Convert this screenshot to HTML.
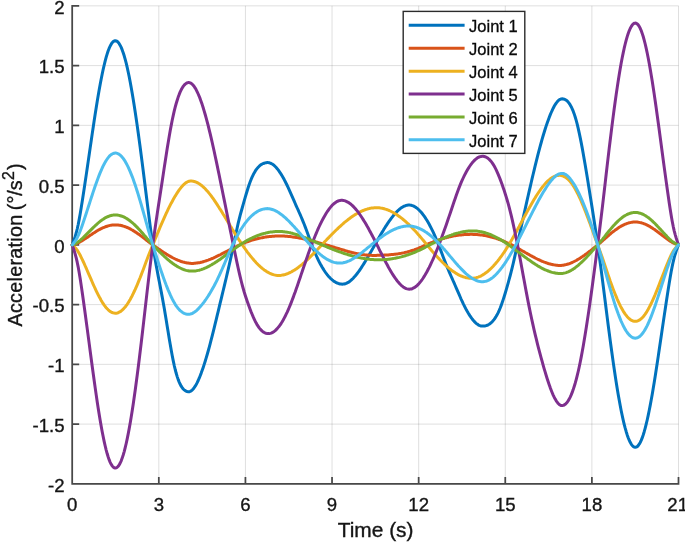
<!DOCTYPE html>
<html lang="en"><head><meta charset="utf-8"><title>Joint accelerations</title>
<style>
html,body{margin:0;padding:0;background:#fff;}
body{width:685px;height:542px;overflow:hidden;position:relative;font-family:"Liberation Sans",Arial,Helvetica,sans-serif;}
svg text{font-family:"Liberation Sans",Arial,Helvetica,sans-serif;}
</style></head><body>
<svg width="685" height="542" viewBox="0 0 685 542" style="position:absolute;left:0;top:0">
<rect width="685" height="542" fill="#fff"/>
<path d="M72.20,5.85V483.85M158.81,5.85V483.85M245.43,5.85V483.85M332.04,5.85V483.85M418.66,5.85V483.85M505.27,5.85V483.85M591.89,5.85V483.85M678.50,5.85V483.85" stroke="#262626" stroke-opacity="0.15" stroke-width="1" fill="none"/>
<path d="M72.20,5.85H678.50M72.20,65.60H678.50M72.20,125.35H678.50M72.20,185.10H678.50M72.20,244.85H678.50M72.20,304.60H678.50M72.20,364.35H678.50M72.20,424.10H678.50M72.20,483.85H678.50" stroke="#262626" stroke-opacity="0.15" stroke-width="1" fill="none"/>
<path d="M72.20,5.85V483.85H678.50M72.20,483.85v-6.1M158.81,483.85v-6.1M245.43,483.85v-6.1M332.04,483.85v-6.1M418.66,483.85v-6.1M505.27,483.85v-6.1M591.89,483.85v-6.1M678.50,483.85v-6.1M72.20,5.85h6.1M72.20,65.60h6.1M72.20,125.35h6.1M72.20,185.10h6.1M72.20,244.85h6.1M72.20,304.60h6.1M72.20,364.35h6.1M72.20,424.10h6.1M72.20,483.85h6.1" stroke="#484848" stroke-width="1.75" fill="none" stroke-linecap="square"/>
<path d="M72.2,244.9 L73.2,242.2 L74.2,239.4 L75.2,236.4 L76.2,233.0 L77.2,229.0 L78.2,224.5 L79.2,219.4 L80.2,213.8 L81.2,207.8 L82.2,201.5 L83.2,195.1 L84.2,188.5 L85.2,181.8 L86.2,175.1 L87.2,168.3 L88.2,161.4 L89.2,154.5 L90.2,147.6 L91.2,140.8 L92.2,133.9 L93.2,127.2 L94.2,120.5 L95.2,114.0 L96.2,107.7 L97.2,101.5 L98.2,95.5 L99.2,89.7 L100.2,84.2 L101.2,79.0 L102.2,74.0 L103.2,69.3 L104.2,65.0 L105.2,60.9 L106.2,57.2 L107.2,53.8 L108.2,50.8 L109.2,48.2 L110.2,46.0 L111.2,44.2 L112.2,42.7 L113.2,41.6 L114.2,41.0 L115.2,40.7 L116.2,40.9 L117.2,41.4 L118.2,42.4 L119.2,43.7 L120.2,45.4 L121.2,47.4 L122.2,49.9 L123.2,52.7 L124.2,55.8 L125.2,59.4 L126.2,63.2 L127.2,67.4 L128.2,72.0 L129.2,76.8 L130.2,82.0 L131.2,87.4 L132.2,93.2 L133.2,99.2 L134.2,105.4 L135.2,111.9 L136.2,118.7 L137.2,125.6 L138.2,132.7 L139.2,140.1 L140.2,147.5 L141.2,155.2 L142.2,162.9 L143.2,170.7 L144.2,178.7 L145.2,186.7 L146.2,194.7 L147.2,202.7 L148.2,210.6 L149.2,218.5 L150.2,226.2 L151.2,233.6 L152.2,240.8 L153.2,247.5 L154.2,253.8 L155.2,259.8 L156.2,265.4 L157.2,270.8 L158.2,276.1 L159.2,281.3 L160.2,286.4 L161.2,291.6 L162.2,296.9 L163.2,302.4 L164.2,308.0 L165.2,314.0 L166.2,320.0 L167.2,326.2 L168.2,332.3 L169.2,338.4 L170.2,344.3 L171.2,350.1 L172.2,355.5 L173.2,360.6 L174.2,365.3 L175.2,369.5 L176.2,373.3 L177.2,376.6 L178.2,379.6 L179.2,382.1 L180.2,384.3 L181.2,386.2 L182.2,387.7 L183.2,389.0 L184.2,389.9 L185.2,390.7 L186.2,391.2 L187.2,391.5 L188.2,391.7 L189.2,391.7 L190.2,391.4 L191.2,390.9 L192.2,390.1 L193.2,389.0 L194.2,387.7 L195.2,386.2 L196.2,384.5 L197.2,382.6 L198.2,380.5 L199.2,378.2 L200.2,375.7 L201.2,373.1 L202.2,370.3 L203.2,367.4 L204.2,364.4 L205.2,361.2 L206.2,357.9 L207.2,354.5 L208.2,351.0 L209.2,347.3 L210.2,343.6 L211.2,339.7 L212.2,335.8 L213.2,331.8 L214.2,327.8 L215.2,323.7 L216.2,319.6 L217.2,315.4 L218.2,311.3 L219.2,307.1 L220.2,302.9 L221.2,298.8 L222.2,294.7 L223.2,290.5 L224.2,286.4 L225.2,282.2 L226.2,278.0 L227.2,273.7 L228.2,269.4 L229.2,265.0 L230.2,260.6 L231.2,256.1 L232.2,251.5 L233.2,246.8 L234.2,242.0 L235.2,237.1 L236.2,232.3 L237.2,227.7 L238.2,223.2 L239.2,219.1 L240.2,215.2 L241.2,211.5 L242.2,208.0 L243.2,204.4 L244.2,200.9 L245.2,197.4 L246.2,194.0 L247.2,190.7 L248.2,187.5 L249.2,184.5 L250.2,181.8 L251.2,179.2 L252.2,176.9 L253.2,174.8 L254.2,172.9 L255.2,171.2 L256.2,169.7 L257.2,168.4 L258.2,167.2 L259.2,166.2 L260.2,165.3 L261.2,164.6 L262.2,164.0 L263.2,163.5 L264.2,163.2 L265.2,162.9 L266.2,162.7 L267.2,162.6 L268.2,162.6 L269.2,162.8 L270.2,163.1 L271.2,163.5 L272.2,164.0 L273.2,164.7 L274.2,165.5 L275.2,166.5 L276.2,167.5 L277.2,168.7 L278.2,169.9 L279.2,171.3 L280.2,172.8 L281.2,174.4 L282.2,176.0 L283.2,177.8 L284.2,179.6 L285.2,181.5 L286.2,183.5 L287.2,185.5 L288.2,187.6 L289.2,189.8 L290.2,192.1 L291.2,194.3 L292.2,196.6 L293.2,198.9 L294.2,201.2 L295.2,203.5 L296.2,205.8 L297.2,208.0 L298.2,210.2 L299.2,212.5 L300.2,214.7 L301.2,217.0 L302.2,219.4 L303.2,221.8 L304.2,224.3 L305.2,226.9 L306.2,229.6 L307.2,232.3 L308.2,235.0 L309.2,237.8 L310.2,240.6 L311.2,243.3 L312.2,245.9 L313.2,248.4 L314.2,250.9 L315.2,253.3 L316.2,255.5 L317.2,257.7 L318.2,259.8 L319.2,261.8 L320.2,263.7 L321.2,265.5 L322.2,267.3 L323.2,268.9 L324.2,270.5 L325.2,272.0 L326.2,273.4 L327.2,274.7 L328.2,275.9 L329.2,277.0 L330.2,278.1 L331.2,279.0 L332.2,279.9 L333.2,280.7 L334.2,281.4 L335.2,282.0 L336.2,282.6 L337.2,283.0 L338.2,283.4 L339.2,283.7 L340.2,284.0 L341.2,284.1 L342.2,284.2 L343.2,284.1 L344.2,284.0 L345.2,283.7 L346.2,283.4 L347.2,282.9 L348.2,282.4 L349.2,281.7 L350.2,281.0 L351.2,280.1 L352.2,279.2 L353.2,278.2 L354.2,277.1 L355.2,276.0 L356.2,274.8 L357.2,273.5 L358.2,272.2 L359.2,270.8 L360.2,269.3 L361.2,267.9 L362.2,266.3 L363.2,264.7 L364.2,263.1 L365.2,261.5 L366.2,259.8 L367.2,258.1 L368.2,256.4 L369.2,254.7 L370.2,252.9 L371.2,251.2 L372.2,249.4 L373.2,247.7 L374.2,245.9 L375.2,244.2 L376.2,242.4 L377.2,240.7 L378.2,238.9 L379.2,237.2 L380.2,235.5 L381.2,233.8 L382.2,232.1 L383.2,230.5 L384.2,228.8 L385.2,227.2 L386.2,225.7 L387.2,224.1 L388.2,222.6 L389.2,221.2 L390.2,219.8 L391.2,218.4 L392.2,217.1 L393.2,215.8 L394.2,214.6 L395.2,213.5 L396.2,212.4 L397.2,211.3 L398.2,210.4 L399.2,209.5 L400.2,208.7 L401.2,207.9 L402.2,207.3 L403.2,206.7 L404.2,206.2 L405.2,205.8 L406.2,205.4 L407.2,205.2 L408.2,205.1 L409.2,205.1 L410.2,205.1 L411.2,205.3 L412.2,205.6 L413.2,205.9 L414.2,206.4 L415.2,207.0 L416.2,207.6 L417.2,208.4 L418.2,209.2 L419.2,210.2 L420.2,211.2 L421.2,212.3 L422.2,213.5 L423.2,214.8 L424.2,216.2 L425.2,217.6 L426.2,219.2 L427.2,220.8 L428.2,222.5 L429.2,224.3 L430.2,226.2 L431.2,228.1 L432.2,230.1 L433.2,232.2 L434.2,234.4 L435.2,236.7 L436.2,239.0 L437.2,241.4 L438.2,243.8 L439.2,246.4 L440.2,249.0 L441.2,251.6 L442.2,254.2 L443.2,256.9 L444.2,259.5 L445.2,262.1 L446.2,264.7 L447.2,267.1 L448.2,269.5 L449.2,271.9 L450.2,274.2 L451.2,276.5 L452.2,278.7 L453.2,281.0 L454.2,283.2 L455.2,285.5 L456.2,287.8 L457.2,290.1 L458.2,292.4 L459.2,294.7 L460.2,297.0 L461.2,299.3 L462.2,301.4 L463.2,303.6 L464.2,305.6 L465.2,307.6 L466.2,309.5 L467.2,311.3 L468.2,313.0 L469.2,314.6 L470.2,316.2 L471.2,317.6 L472.2,319.0 L473.2,320.2 L474.2,321.4 L475.2,322.4 L476.2,323.3 L477.2,324.1 L478.2,324.8 L479.2,325.3 L480.2,325.7 L481.2,326.0 L482.2,326.1 L483.2,326.1 L484.2,326.0 L485.2,325.9 L486.2,325.6 L487.2,325.3 L488.2,324.8 L489.2,324.2 L490.2,323.5 L491.2,322.7 L492.2,321.7 L493.2,320.6 L494.2,319.4 L495.2,317.9 L496.2,316.3 L497.2,314.5 L498.2,312.6 L499.2,310.4 L500.2,308.0 L501.2,305.4 L502.2,302.6 L503.2,299.6 L504.2,296.5 L505.2,293.2 L506.2,289.8 L507.2,286.3 L508.2,282.8 L509.2,279.2 L510.2,275.5 L511.2,271.7 L512.2,267.7 L513.2,263.5 L514.2,259.1 L515.2,254.6 L516.2,250.0 L517.2,245.3 L518.2,240.7 L519.2,236.1 L520.2,231.5 L521.2,226.9 L522.2,222.3 L523.2,217.8 L524.2,213.3 L525.2,208.8 L526.2,204.4 L527.2,199.9 L528.2,195.5 L529.2,191.2 L530.2,186.8 L531.2,182.5 L532.2,178.2 L533.2,174.0 L534.2,169.8 L535.2,165.7 L536.2,161.6 L537.2,157.6 L538.2,153.7 L539.2,149.9 L540.2,146.1 L541.2,142.5 L542.2,138.9 L543.2,135.5 L544.2,132.2 L545.2,129.0 L546.2,125.9 L547.2,123.0 L548.2,120.2 L549.2,117.5 L550.2,114.9 L551.2,112.5 L552.2,110.3 L553.2,108.2 L554.2,106.3 L555.2,104.6 L556.2,103.1 L557.2,101.8 L558.2,100.7 L559.2,99.9 L560.2,99.3 L561.2,98.9 L562.2,98.8 L563.2,98.9 L564.2,99.2 L565.2,99.6 L566.2,100.2 L567.2,101.0 L568.2,102.1 L569.2,103.4 L570.2,104.9 L571.2,106.7 L572.2,108.8 L573.2,111.2 L574.2,113.9 L575.2,117.0 L576.2,120.4 L577.2,124.1 L578.2,128.3 L579.2,132.8 L580.2,137.6 L581.2,142.6 L582.2,147.9 L583.2,153.5 L584.2,159.2 L585.2,165.0 L586.2,171.0 L587.2,177.1 L588.2,183.2 L589.2,189.4 L590.2,195.7 L591.2,201.9 L592.2,208.3 L593.2,214.7 L594.2,221.2 L595.2,227.8 L596.2,234.5 L597.2,241.4 L598.2,248.4 L599.2,255.5 L600.2,262.8 L601.2,270.3 L602.2,277.9 L603.2,285.7 L604.2,293.6 L605.2,301.5 L606.2,309.5 L607.2,317.4 L608.2,325.2 L609.2,332.8 L610.2,340.4 L611.2,347.8 L612.2,355.0 L613.2,362.1 L614.2,369.0 L615.2,375.7 L616.2,382.2 L617.2,388.4 L618.2,394.4 L619.2,400.1 L620.2,405.6 L621.2,410.7 L622.2,415.5 L623.2,420.1 L624.2,424.3 L625.2,428.2 L626.2,431.7 L627.2,434.9 L628.2,437.7 L629.2,440.2 L630.2,442.3 L631.2,444.1 L632.2,445.5 L633.2,446.4 L634.2,447.1 L635.2,447.3 L636.2,447.1 L637.2,446.6 L638.2,445.6 L639.2,444.2 L640.2,442.5 L641.2,440.4 L642.2,437.9 L643.2,435.0 L644.2,431.7 L645.2,428.1 L646.2,424.2 L647.2,420.0 L648.2,415.4 L649.2,410.5 L650.2,405.4 L651.2,400.0 L652.2,394.4 L653.2,388.5 L654.2,382.4 L655.2,376.2 L656.2,369.8 L657.2,363.2 L658.2,356.6 L659.2,349.8 L660.2,343.0 L661.2,336.2 L662.2,329.4 L663.2,322.6 L664.2,315.9 L665.2,309.2 L666.2,302.5 L667.2,296.0 L668.2,289.6 L669.2,283.3 L670.2,277.3 L671.2,271.6 L672.2,266.4 L673.2,261.8 L674.2,257.7 L675.2,254.2 L676.2,251.1 L677.2,248.3 L678.2,245.6 L678.5,244.9" stroke="#0072BD" stroke-width="3.0" fill="none" stroke-linejoin="round" stroke-linecap="round"/>
<path d="M72.2,244.9 L73.2,244.6 L74.2,244.3 L75.2,244.0 L76.2,243.7 L77.2,243.3 L78.2,242.9 L79.2,242.4 L80.2,241.8 L81.2,241.2 L82.2,240.6 L83.2,240.0 L84.2,239.3 L85.2,238.7 L86.2,238.0 L87.2,237.4 L88.2,236.7 L89.2,236.0 L90.2,235.3 L91.2,234.7 L92.2,234.0 L93.2,233.3 L94.2,232.7 L95.2,232.1 L96.2,231.4 L97.2,230.8 L98.2,230.2 L99.2,229.7 L100.2,229.1 L101.2,228.6 L102.2,228.1 L103.2,227.7 L104.2,227.3 L105.2,226.9 L106.2,226.5 L107.2,226.2 L108.2,225.9 L109.2,225.6 L110.2,225.4 L111.2,225.2 L112.2,225.1 L113.2,225.0 L114.2,224.9 L115.2,224.9 L116.2,224.9 L117.2,225.0 L118.2,225.1 L119.2,225.2 L120.2,225.3 L121.2,225.5 L122.2,225.8 L123.2,226.1 L124.2,226.4 L125.2,226.7 L126.2,227.1 L127.2,227.5 L128.2,227.9 L129.2,228.4 L130.2,228.9 L131.2,229.5 L132.2,230.0 L133.2,230.6 L134.2,231.2 L135.2,231.9 L136.2,232.5 L137.2,233.2 L138.2,233.9 L139.2,234.6 L140.2,235.3 L141.2,236.1 L142.2,236.8 L143.2,237.6 L144.2,238.4 L145.2,239.2 L146.2,240.0 L147.2,240.7 L148.2,241.5 L149.2,242.3 L150.2,243.0 L151.2,243.7 L152.2,244.4 L153.2,245.1 L154.2,245.8 L155.2,246.6 L156.2,247.3 L157.2,248.0 L158.2,248.7 L159.2,249.3 L160.2,250.0 L161.2,250.7 L162.2,251.4 L163.2,252.1 L164.2,252.7 L165.2,253.3 L166.2,254.0 L167.2,254.6 L168.2,255.2 L169.2,255.8 L170.2,256.4 L171.2,256.9 L172.2,257.5 L173.2,258.0 L174.2,258.5 L175.2,259.0 L176.2,259.5 L177.2,259.9 L178.2,260.3 L179.2,260.7 L180.2,261.1 L181.2,261.5 L182.2,261.8 L183.2,262.1 L184.2,262.3 L185.2,262.6 L186.2,262.8 L187.2,263.0 L188.2,263.1 L189.2,263.2 L190.2,263.3 L191.2,263.4 L192.2,263.4 L193.2,263.4 L194.2,263.3 L195.2,263.2 L196.2,263.1 L197.2,263.0 L198.2,262.8 L199.2,262.7 L200.2,262.5 L201.2,262.2 L202.2,262.0 L203.2,261.7 L204.2,261.4 L205.2,261.1 L206.2,260.8 L207.2,260.4 L208.2,260.1 L209.2,259.7 L210.2,259.3 L211.2,258.9 L212.2,258.5 L213.2,258.1 L214.2,257.6 L215.2,257.2 L216.2,256.7 L217.2,256.2 L218.2,255.7 L219.2,255.2 L220.2,254.8 L221.2,254.2 L222.2,253.7 L223.2,253.2 L224.2,252.7 L225.2,252.2 L226.2,251.7 L227.2,251.2 L228.2,250.6 L229.2,250.1 L230.2,249.6 L231.2,249.1 L232.2,248.6 L233.2,248.0 L234.2,247.5 L235.2,247.0 L236.2,246.6 L237.2,246.1 L238.2,245.6 L239.2,245.1 L240.2,244.7 L241.2,244.2 L242.2,243.8 L243.2,243.4 L244.2,243.0 L245.2,242.6 L246.2,242.2 L247.2,241.8 L248.2,241.5 L249.2,241.1 L250.2,240.8 L251.2,240.4 L252.2,240.1 L253.2,239.8 L254.2,239.5 L255.2,239.3 L256.2,239.0 L257.2,238.8 L258.2,238.5 L259.2,238.3 L260.2,238.1 L261.2,237.9 L262.2,237.7 L263.2,237.5 L264.2,237.3 L265.2,237.1 L266.2,237.0 L267.2,236.8 L268.2,236.7 L269.2,236.6 L270.2,236.5 L271.2,236.4 L272.2,236.3 L273.2,236.2 L274.2,236.2 L275.2,236.1 L276.2,236.1 L277.2,236.0 L278.2,236.0 L279.2,236.0 L280.2,236.0 L281.2,236.0 L282.2,236.0 L283.2,236.1 L284.2,236.1 L285.2,236.2 L286.2,236.2 L287.2,236.3 L288.2,236.4 L289.2,236.5 L290.2,236.6 L291.2,236.7 L292.2,236.9 L293.2,237.0 L294.2,237.2 L295.2,237.3 L296.2,237.5 L297.2,237.6 L298.2,237.8 L299.2,238.0 L300.2,238.2 L301.2,238.4 L302.2,238.6 L303.2,238.8 L304.2,239.0 L305.2,239.3 L306.2,239.5 L307.2,239.7 L308.2,240.0 L309.2,240.2 L310.2,240.5 L311.2,240.7 L312.2,241.0 L313.2,241.3 L314.2,241.5 L315.2,241.8 L316.2,242.1 L317.2,242.3 L318.2,242.6 L319.2,242.9 L320.2,243.2 L321.2,243.5 L322.2,243.8 L323.2,244.0 L324.2,244.3 L325.2,244.6 L326.2,244.9 L327.2,245.2 L328.2,245.5 L329.2,245.8 L330.2,246.1 L331.2,246.4 L332.2,246.7 L333.2,247.0 L334.2,247.3 L335.2,247.6 L336.2,247.9 L337.2,248.2 L338.2,248.5 L339.2,248.8 L340.2,249.1 L341.2,249.4 L342.2,249.7 L343.2,250.0 L344.2,250.3 L345.2,250.6 L346.2,250.9 L347.2,251.2 L348.2,251.5 L349.2,251.7 L350.2,252.0 L351.2,252.2 L352.2,252.5 L353.2,252.7 L354.2,253.0 L355.2,253.2 L356.2,253.4 L357.2,253.6 L358.2,253.8 L359.2,254.0 L360.2,254.2 L361.2,254.4 L362.2,254.5 L363.2,254.7 L364.2,254.8 L365.2,254.9 L366.2,255.0 L367.2,255.1 L368.2,255.2 L369.2,255.3 L370.2,255.3 L371.2,255.3 L372.2,255.4 L373.2,255.4 L374.2,255.4 L375.2,255.4 L376.2,255.4 L377.2,255.3 L378.2,255.3 L379.2,255.3 L380.2,255.3 L381.2,255.3 L382.2,255.2 L383.2,255.2 L384.2,255.1 L385.2,255.1 L386.2,255.0 L387.2,255.0 L388.2,254.9 L389.2,254.8 L390.2,254.7 L391.2,254.6 L392.2,254.5 L393.2,254.4 L394.2,254.3 L395.2,254.2 L396.2,254.1 L397.2,253.9 L398.2,253.8 L399.2,253.6 L400.2,253.4 L401.2,253.3 L402.2,253.1 L403.2,252.9 L404.2,252.7 L405.2,252.4 L406.2,252.2 L407.2,252.0 L408.2,251.7 L409.2,251.4 L410.2,251.1 L411.2,250.8 L412.2,250.5 L413.2,250.2 L414.2,249.9 L415.2,249.5 L416.2,249.1 L417.2,248.8 L418.2,248.4 L419.2,247.9 L420.2,247.5 L421.2,247.1 L422.2,246.6 L423.2,246.2 L424.2,245.7 L425.2,245.3 L426.2,244.8 L427.2,244.4 L428.2,243.9 L429.2,243.5 L430.2,243.1 L431.2,242.7 L432.2,242.3 L433.2,241.9 L434.2,241.5 L435.2,241.1 L436.2,240.8 L437.2,240.4 L438.2,240.1 L439.2,239.8 L440.2,239.4 L441.2,239.1 L442.2,238.8 L443.2,238.5 L444.2,238.2 L445.2,237.9 L446.2,237.7 L447.2,237.4 L448.2,237.2 L449.2,236.9 L450.2,236.7 L451.2,236.5 L452.2,236.3 L453.2,236.1 L454.2,235.9 L455.2,235.7 L456.2,235.5 L457.2,235.4 L458.2,235.2 L459.2,235.1 L460.2,235.0 L461.2,234.9 L462.2,234.8 L463.2,234.7 L464.2,234.6 L465.2,234.5 L466.2,234.5 L467.2,234.4 L468.2,234.4 L469.2,234.4 L470.2,234.3 L471.2,234.3 L472.2,234.3 L473.2,234.4 L474.2,234.4 L475.2,234.4 L476.2,234.5 L477.2,234.6 L478.2,234.7 L479.2,234.8 L480.2,234.9 L481.2,235.0 L482.2,235.1 L483.2,235.3 L484.2,235.5 L485.2,235.6 L486.2,235.8 L487.2,236.0 L488.2,236.3 L489.2,236.5 L490.2,236.7 L491.2,237.0 L492.2,237.2 L493.2,237.5 L494.2,237.8 L495.2,238.1 L496.2,238.4 L497.2,238.8 L498.2,239.1 L499.2,239.5 L500.2,239.8 L501.2,240.2 L502.2,240.6 L503.2,241.0 L504.2,241.4 L505.2,241.9 L506.2,242.3 L507.2,242.8 L508.2,243.2 L509.2,243.7 L510.2,244.2 L511.2,244.7 L512.2,245.2 L513.2,245.7 L514.2,246.3 L515.2,246.8 L516.2,247.4 L517.2,247.9 L518.2,248.5 L519.2,249.0 L520.2,249.6 L521.2,250.2 L522.2,250.8 L523.2,251.3 L524.2,251.9 L525.2,252.5 L526.2,253.0 L527.2,253.6 L528.2,254.2 L529.2,254.7 L530.2,255.3 L531.2,255.8 L532.2,256.4 L533.2,256.9 L534.2,257.4 L535.2,258.0 L536.2,258.5 L537.2,259.0 L538.2,259.5 L539.2,259.9 L540.2,260.4 L541.2,260.8 L542.2,261.3 L543.2,261.7 L544.2,262.1 L545.2,262.4 L546.2,262.8 L547.2,263.1 L548.2,263.5 L549.2,263.8 L550.2,264.0 L551.2,264.3 L552.2,264.5 L553.2,264.7 L554.2,264.9 L555.2,265.1 L556.2,265.2 L557.2,265.3 L558.2,265.4 L559.2,265.4 L560.2,265.4 L561.2,265.4 L562.2,265.3 L563.2,265.2 L564.2,265.0 L565.2,264.8 L566.2,264.6 L567.2,264.3 L568.2,264.0 L569.2,263.7 L570.2,263.3 L571.2,262.9 L572.2,262.5 L573.2,262.0 L574.2,261.5 L575.2,261.0 L576.2,260.5 L577.2,259.9 L578.2,259.3 L579.2,258.7 L580.2,258.1 L581.2,257.4 L582.2,256.8 L583.2,256.1 L584.2,255.4 L585.2,254.6 L586.2,253.9 L587.2,253.2 L588.2,252.4 L589.2,251.6 L590.2,250.9 L591.2,250.1 L592.2,249.3 L593.2,248.5 L594.2,247.7 L595.2,246.9 L596.2,246.1 L597.2,245.3 L598.2,244.4 L599.2,243.6 L600.2,242.8 L601.2,242.0 L602.2,241.1 L603.2,240.2 L604.2,239.4 L605.2,238.5 L606.2,237.6 L607.2,236.7 L608.2,235.8 L609.2,234.9 L610.2,234.1 L611.2,233.2 L612.2,232.4 L613.2,231.6 L614.2,230.9 L615.2,230.1 L616.2,229.4 L617.2,228.7 L618.2,228.0 L619.2,227.3 L620.2,226.7 L621.2,226.1 L622.2,225.6 L623.2,225.1 L624.2,224.6 L625.2,224.2 L626.2,223.8 L627.2,223.4 L628.2,223.1 L629.2,222.8 L630.2,222.6 L631.2,222.4 L632.2,222.2 L633.2,222.1 L634.2,222.1 L635.2,222.0 L636.2,222.0 L637.2,222.1 L638.2,222.2 L639.2,222.4 L640.2,222.6 L641.2,222.8 L642.2,223.1 L643.2,223.4 L644.2,223.8 L645.2,224.2 L646.2,224.6 L647.2,225.1 L648.2,225.6 L649.2,226.2 L650.2,226.7 L651.2,227.4 L652.2,228.0 L653.2,228.7 L654.2,229.3 L655.2,230.0 L656.2,230.8 L657.2,231.5 L658.2,232.3 L659.2,233.0 L660.2,233.8 L661.2,234.5 L662.2,235.3 L663.2,236.1 L664.2,236.8 L665.2,237.6 L666.2,238.3 L667.2,239.1 L668.2,239.8 L669.2,240.5 L670.2,241.2 L671.2,241.8 L672.2,242.4 L673.2,242.9 L674.2,243.4 L675.2,243.8 L676.2,244.1 L677.2,244.5 L678.2,244.8 L678.5,244.9" stroke="#D95319" stroke-width="3.0" fill="none" stroke-linejoin="round" stroke-linecap="round"/>
<path d="M72.2,244.9 L73.2,245.7 L74.2,246.7 L75.2,247.7 L76.2,248.8 L77.2,250.1 L78.2,251.7 L79.2,253.4 L80.2,255.3 L81.2,257.3 L82.2,259.4 L83.2,261.5 L84.2,263.7 L85.2,266.0 L86.2,268.2 L87.2,270.5 L88.2,272.8 L89.2,275.1 L90.2,277.4 L91.2,279.7 L92.2,282.0 L93.2,284.3 L94.2,286.5 L95.2,288.7 L96.2,290.8 L97.2,292.9 L98.2,294.9 L99.2,296.8 L100.2,298.6 L101.2,300.4 L102.2,302.1 L103.2,303.6 L104.2,305.1 L105.2,306.5 L106.2,307.7 L107.2,308.8 L108.2,309.8 L109.2,310.7 L110.2,311.4 L111.2,312.1 L112.2,312.5 L113.2,312.9 L114.2,313.1 L115.2,313.2 L116.2,313.2 L117.2,313.0 L118.2,312.7 L119.2,312.2 L120.2,311.7 L121.2,311.0 L122.2,310.1 L123.2,309.2 L124.2,308.1 L125.2,307.0 L126.2,305.7 L127.2,304.3 L128.2,302.7 L129.2,301.1 L130.2,299.4 L131.2,297.6 L132.2,295.7 L133.2,293.6 L134.2,291.5 L135.2,289.4 L136.2,287.1 L137.2,284.8 L138.2,282.4 L139.2,279.9 L140.2,277.5 L141.2,274.9 L142.2,272.3 L143.2,269.7 L144.2,267.0 L145.2,264.3 L146.2,261.6 L147.2,258.9 L148.2,256.3 L149.2,253.7 L150.2,251.2 L151.2,248.8 L152.2,246.3 L153.2,243.9 L154.2,241.4 L155.2,239.0 L156.2,236.6 L157.2,234.2 L158.2,231.8 L159.2,229.4 L160.2,227.0 L161.2,224.7 L162.2,222.3 L163.2,220.1 L164.2,217.8 L165.2,215.6 L166.2,213.4 L167.2,211.3 L168.2,209.2 L169.2,207.2 L170.2,205.2 L171.2,203.2 L172.2,201.4 L173.2,199.6 L174.2,197.8 L175.2,196.1 L176.2,194.5 L177.2,192.9 L178.2,191.4 L179.2,189.9 L180.2,188.6 L181.2,187.3 L182.2,186.2 L183.2,185.1 L184.2,184.2 L185.2,183.3 L186.2,182.6 L187.2,182.0 L188.2,181.5 L189.2,181.2 L190.2,181.1 L191.2,181.0 L192.2,181.1 L193.2,181.3 L194.2,181.5 L195.2,181.8 L196.2,182.2 L197.2,182.7 L198.2,183.2 L199.2,183.8 L200.2,184.5 L201.2,185.2 L202.2,186.0 L203.2,186.9 L204.2,187.8 L205.2,188.8 L206.2,189.9 L207.2,191.0 L208.2,192.1 L209.2,193.4 L210.2,194.6 L211.2,195.9 L212.2,197.3 L213.2,198.7 L214.2,200.1 L215.2,201.6 L216.2,203.1 L217.2,204.6 L218.2,206.2 L219.2,207.8 L220.2,209.3 L221.2,210.9 L222.2,212.5 L223.2,214.2 L224.2,215.8 L225.2,217.4 L226.2,219.1 L227.2,220.7 L228.2,222.4 L229.2,224.0 L230.2,225.7 L231.2,227.3 L232.2,229.0 L233.2,230.6 L234.2,232.2 L235.2,233.9 L236.2,235.5 L237.2,237.0 L238.2,238.6 L239.2,240.2 L240.2,241.7 L241.2,243.2 L242.2,244.7 L243.2,246.2 L244.2,247.6 L245.2,249.0 L246.2,250.4 L247.2,251.8 L248.2,253.1 L249.2,254.4 L250.2,255.7 L251.2,256.9 L252.2,258.1 L253.2,259.3 L254.2,260.5 L255.2,261.6 L256.2,262.7 L257.2,263.7 L258.2,264.7 L259.2,265.7 L260.2,266.6 L261.2,267.5 L262.2,268.3 L263.2,269.1 L264.2,269.9 L265.2,270.6 L266.2,271.3 L267.2,271.9 L268.2,272.4 L269.2,273.0 L270.2,273.5 L271.2,273.9 L272.2,274.3 L273.2,274.6 L274.2,274.9 L275.2,275.1 L276.2,275.3 L277.2,275.4 L278.2,275.4 L279.2,275.4 L280.2,275.4 L281.2,275.3 L282.2,275.1 L283.2,275.0 L284.2,274.7 L285.2,274.5 L286.2,274.1 L287.2,273.8 L288.2,273.4 L289.2,272.9 L290.2,272.5 L291.2,272.0 L292.2,271.4 L293.2,270.8 L294.2,270.2 L295.2,269.6 L296.2,268.9 L297.2,268.2 L298.2,267.5 L299.2,266.7 L300.2,265.9 L301.2,265.1 L302.2,264.3 L303.2,263.4 L304.2,262.6 L305.2,261.7 L306.2,260.7 L307.2,259.8 L308.2,258.9 L309.2,257.9 L310.2,256.9 L311.2,255.9 L312.2,254.9 L313.2,253.9 L314.2,252.9 L315.2,251.8 L316.2,250.8 L317.2,249.7 L318.2,248.7 L319.2,247.6 L320.2,246.6 L321.2,245.5 L322.2,244.4 L323.2,243.4 L324.2,242.3 L325.2,241.2 L326.2,240.2 L327.2,239.1 L328.2,238.1 L329.2,237.1 L330.2,236.0 L331.2,235.0 L332.2,234.0 L333.2,233.0 L334.2,232.0 L335.2,231.0 L336.2,230.0 L337.2,229.1 L338.2,228.1 L339.2,227.2 L340.2,226.3 L341.2,225.4 L342.2,224.5 L343.2,223.6 L344.2,222.7 L345.2,221.9 L346.2,221.1 L347.2,220.3 L348.2,219.5 L349.2,218.8 L350.2,218.0 L351.2,217.3 L352.2,216.6 L353.2,215.9 L354.2,215.3 L355.2,214.6 L356.2,214.0 L357.2,213.5 L358.2,212.9 L359.2,212.4 L360.2,211.9 L361.2,211.4 L362.2,210.9 L363.2,210.5 L364.2,210.1 L365.2,209.7 L366.2,209.4 L367.2,209.1 L368.2,208.8 L369.2,208.6 L370.2,208.3 L371.2,208.1 L372.2,208.0 L373.2,207.9 L374.2,207.8 L375.2,207.7 L376.2,207.7 L377.2,207.7 L378.2,207.7 L379.2,207.8 L380.2,207.9 L381.2,208.1 L382.2,208.3 L383.2,208.5 L384.2,208.8 L385.2,209.1 L386.2,209.4 L387.2,209.7 L388.2,210.1 L389.2,210.5 L390.2,211.0 L391.2,211.5 L392.2,212.0 L393.2,212.5 L394.2,213.1 L395.2,213.7 L396.2,214.3 L397.2,215.0 L398.2,215.7 L399.2,216.4 L400.2,217.1 L401.2,217.9 L402.2,218.7 L403.2,219.5 L404.2,220.3 L405.2,221.2 L406.2,222.1 L407.2,223.0 L408.2,223.9 L409.2,224.9 L410.2,225.8 L411.2,226.8 L412.2,227.9 L413.2,228.9 L414.2,230.0 L415.2,231.0 L416.2,232.1 L417.2,233.3 L418.2,234.4 L419.2,235.5 L420.2,236.7 L421.2,237.9 L422.2,239.1 L423.2,240.3 L424.2,241.5 L425.2,242.8 L426.2,244.0 L427.2,245.2 L428.2,246.4 L429.2,247.6 L430.2,248.8 L431.2,250.0 L432.2,251.2 L433.2,252.3 L434.2,253.5 L435.2,254.6 L436.2,255.7 L437.2,256.8 L438.2,257.9 L439.2,258.9 L440.2,260.0 L441.2,261.0 L442.2,262.0 L443.2,263.0 L444.2,263.9 L445.2,264.9 L446.2,265.8 L447.2,266.7 L448.2,267.5 L449.2,268.4 L450.2,269.2 L451.2,270.0 L452.2,270.7 L453.2,271.4 L454.2,272.1 L455.2,272.8 L456.2,273.4 L457.2,274.0 L458.2,274.6 L459.2,275.1 L460.2,275.6 L461.2,276.0 L462.2,276.4 L463.2,276.8 L464.2,277.1 L465.2,277.4 L466.2,277.7 L467.2,277.9 L468.2,278.1 L469.2,278.2 L470.2,278.3 L471.2,278.3 L472.2,278.3 L473.2,278.2 L474.2,278.1 L475.2,277.9 L476.2,277.7 L477.2,277.4 L478.2,277.1 L479.2,276.7 L480.2,276.3 L481.2,275.8 L482.2,275.2 L483.2,274.6 L484.2,274.0 L485.2,273.3 L486.2,272.6 L487.2,271.8 L488.2,271.0 L489.2,270.1 L490.2,269.2 L491.2,268.2 L492.2,267.2 L493.2,266.2 L494.2,265.1 L495.2,264.0 L496.2,262.8 L497.2,261.6 L498.2,260.3 L499.2,259.1 L500.2,257.7 L501.2,256.4 L502.2,255.0 L503.2,253.5 L504.2,252.1 L505.2,250.6 L506.2,249.0 L507.2,247.4 L508.2,245.8 L509.2,244.2 L510.2,242.5 L511.2,240.8 L512.2,239.1 L513.2,237.3 L514.2,235.5 L515.2,233.7 L516.2,231.9 L517.2,230.1 L518.2,228.2 L519.2,226.4 L520.2,224.5 L521.2,222.7 L522.2,220.8 L523.2,218.9 L524.2,217.1 L525.2,215.2 L526.2,213.4 L527.2,211.5 L528.2,209.7 L529.2,207.9 L530.2,206.2 L531.2,204.4 L532.2,202.7 L533.2,201.0 L534.2,199.3 L535.2,197.7 L536.2,196.0 L537.2,194.5 L538.2,193.0 L539.2,191.5 L540.2,190.1 L541.2,188.7 L542.2,187.3 L543.2,186.1 L544.2,184.9 L545.2,183.7 L546.2,182.6 L547.2,181.6 L548.2,180.6 L549.2,179.8 L550.2,179.0 L551.2,178.2 L552.2,177.6 L553.2,177.0 L554.2,176.5 L555.2,176.1 L556.2,175.7 L557.2,175.5 L558.2,175.4 L559.2,175.3 L560.2,175.3 L561.2,175.5 L562.2,175.7 L563.2,176.1 L564.2,176.6 L565.2,177.1 L566.2,177.8 L567.2,178.6 L568.2,179.5 L569.2,180.5 L570.2,181.6 L571.2,182.9 L572.2,184.2 L573.2,185.7 L574.2,187.3 L575.2,189.0 L576.2,190.8 L577.2,192.7 L578.2,194.7 L579.2,196.8 L580.2,199.0 L581.2,201.2 L582.2,203.6 L583.2,206.0 L584.2,208.4 L585.2,210.9 L586.2,213.5 L587.2,216.1 L588.2,218.7 L589.2,221.4 L590.2,224.1 L591.2,226.9 L592.2,229.6 L593.2,232.4 L594.2,235.2 L595.2,237.9 L596.2,240.7 L597.2,243.5 L598.2,246.2 L599.2,249.0 L600.2,251.7 L601.2,254.5 L602.2,257.3 L603.2,260.3 L604.2,263.2 L605.2,266.2 L606.2,269.3 L607.2,272.3 L608.2,275.2 L609.2,278.1 L610.2,281.0 L611.2,283.7 L612.2,286.5 L613.2,289.2 L614.2,291.8 L615.2,294.3 L616.2,296.7 L617.2,299.1 L618.2,301.3 L619.2,303.5 L620.2,305.6 L621.2,307.5 L622.2,309.3 L623.2,311.1 L624.2,312.6 L625.2,314.1 L626.2,315.4 L627.2,316.7 L628.2,317.7 L629.2,318.7 L630.2,319.5 L631.2,320.1 L632.2,320.6 L633.2,321.0 L634.2,321.2 L635.2,321.3 L636.2,321.3 L637.2,321.1 L638.2,320.7 L639.2,320.2 L640.2,319.5 L641.2,318.7 L642.2,317.8 L643.2,316.7 L644.2,315.5 L645.2,314.1 L646.2,312.6 L647.2,311.0 L648.2,309.3 L649.2,307.4 L650.2,305.5 L651.2,303.5 L652.2,301.3 L653.2,299.1 L654.2,296.8 L655.2,294.5 L656.2,292.0 L657.2,289.6 L658.2,287.1 L659.2,284.5 L660.2,281.9 L661.2,279.4 L662.2,276.8 L663.2,274.2 L664.2,271.7 L665.2,269.1 L666.2,266.6 L667.2,264.2 L668.2,261.7 L669.2,259.4 L670.2,257.1 L671.2,255.0 L672.2,253.0 L673.2,251.2 L674.2,249.7 L675.2,248.4 L676.2,247.2 L677.2,246.1 L678.2,245.1 L678.5,244.9" stroke="#EDB120" stroke-width="3.0" fill="none" stroke-linejoin="round" stroke-linecap="round"/>
<path d="M72.2,244.9 L73.2,247.8 L74.2,250.8 L75.2,254.1 L76.2,257.9 L77.2,262.2 L78.2,267.1 L79.2,272.7 L80.2,278.8 L81.2,285.4 L82.2,292.2 L83.2,299.3 L84.2,306.5 L85.2,313.8 L86.2,321.2 L87.2,328.6 L88.2,336.1 L89.2,343.6 L90.2,351.2 L91.2,358.7 L92.2,366.2 L93.2,373.5 L94.2,380.8 L95.2,387.9 L96.2,394.9 L97.2,401.7 L98.2,408.2 L99.2,414.5 L100.2,420.5 L101.2,426.3 L102.2,431.7 L103.2,436.8 L104.2,441.6 L105.2,446.0 L106.2,450.1 L107.2,453.8 L108.2,457.0 L109.2,459.9 L110.2,462.3 L111.2,464.3 L112.2,465.9 L113.2,467.1 L114.2,467.8 L115.2,468.1 L116.2,467.9 L117.2,467.3 L118.2,466.3 L119.2,464.9 L120.2,463.0 L121.2,460.8 L122.2,458.1 L123.2,455.0 L124.2,451.6 L125.2,447.7 L126.2,443.5 L127.2,438.9 L128.2,433.9 L129.2,428.6 L130.2,423.0 L131.2,417.0 L132.2,410.8 L133.2,404.2 L134.2,397.3 L135.2,390.2 L136.2,382.8 L137.2,375.3 L138.2,367.5 L139.2,359.5 L140.2,351.3 L141.2,343.0 L142.2,334.5 L143.2,325.9 L144.2,317.2 L145.2,308.4 L146.2,299.7 L147.2,290.9 L148.2,282.3 L149.2,273.8 L150.2,265.4 L151.2,257.3 L152.2,249.4 L153.2,241.8 L154.2,234.5 L155.2,227.5 L156.2,220.6 L157.2,213.9 L158.2,207.3 L159.2,200.7 L160.2,194.2 L161.2,187.7 L162.2,181.2 L163.2,174.6 L164.2,167.9 L165.2,161.4 L166.2,154.9 L167.2,148.6 L168.2,142.4 L169.2,136.4 L170.2,130.7 L171.2,125.4 L172.2,120.3 L173.2,115.6 L174.2,111.2 L175.2,107.2 L176.2,103.5 L177.2,100.2 L178.2,97.1 L179.2,94.4 L180.2,91.9 L181.2,89.8 L182.2,88.0 L183.2,86.4 L184.2,85.1 L185.2,84.1 L186.2,83.3 L187.2,82.8 L188.2,82.6 L189.2,82.6 L190.2,82.9 L191.2,83.4 L192.2,84.2 L193.2,85.3 L194.2,86.5 L195.2,88.1 L196.2,89.8 L197.2,91.8 L198.2,94.0 L199.2,96.3 L200.2,98.9 L201.2,101.7 L202.2,104.6 L203.2,107.8 L204.2,111.1 L205.2,114.5 L206.2,118.1 L207.2,121.9 L208.2,125.7 L209.2,129.8 L210.2,133.9 L211.2,138.2 L212.2,142.5 L213.2,147.0 L214.2,151.5 L215.2,156.2 L216.2,160.9 L217.2,165.6 L218.2,170.5 L219.2,175.3 L220.2,180.2 L221.2,185.1 L222.2,190.0 L223.2,195.0 L224.2,199.9 L225.2,204.8 L226.2,209.8 L227.2,214.7 L228.2,219.7 L229.2,224.6 L230.2,229.6 L231.2,234.5 L232.2,239.4 L233.2,244.4 L234.2,249.3 L235.2,254.1 L236.2,258.9 L237.2,263.6 L238.2,268.2 L239.2,272.7 L240.2,276.9 L241.2,281.0 L242.2,284.9 L243.2,288.5 L244.2,292.0 L245.2,295.2 L246.2,298.3 L247.2,301.2 L248.2,304.0 L249.2,306.8 L250.2,309.5 L251.2,312.1 L252.2,314.5 L253.2,316.9 L254.2,319.1 L255.2,321.2 L256.2,323.1 L257.2,324.9 L258.2,326.4 L259.2,327.9 L260.2,329.1 L261.2,330.2 L262.2,331.1 L263.2,331.9 L264.2,332.5 L265.2,333.0 L266.2,333.4 L267.2,333.6 L268.2,333.6 L269.2,333.6 L270.2,333.4 L271.2,333.1 L272.2,332.6 L273.2,332.1 L274.2,331.4 L275.2,330.6 L276.2,329.6 L277.2,328.6 L278.2,327.4 L279.2,326.2 L280.2,324.8 L281.2,323.3 L282.2,321.7 L283.2,320.0 L284.2,318.1 L285.2,316.2 L286.2,314.2 L287.2,312.1 L288.2,309.8 L289.2,307.5 L290.2,305.1 L291.2,302.6 L292.2,300.0 L293.2,297.4 L294.2,294.6 L295.2,291.9 L296.2,289.0 L297.2,286.2 L298.2,283.3 L299.2,280.3 L300.2,277.4 L301.2,274.4 L302.2,271.5 L303.2,268.6 L304.2,265.6 L305.2,262.7 L306.2,259.8 L307.2,257.0 L308.2,254.1 L309.2,251.3 L310.2,248.6 L311.2,245.9 L312.2,243.3 L313.2,240.7 L314.2,238.2 L315.2,235.7 L316.2,233.3 L317.2,231.0 L318.2,228.7 L319.2,226.5 L320.2,224.4 L321.2,222.4 L322.2,220.4 L323.2,218.5 L324.2,216.7 L325.2,215.0 L326.2,213.3 L327.2,211.7 L328.2,210.3 L329.2,208.9 L330.2,207.6 L331.2,206.4 L332.2,205.3 L333.2,204.3 L334.2,203.4 L335.2,202.7 L336.2,202.0 L337.2,201.4 L338.2,201.0 L339.2,200.6 L340.2,200.4 L341.2,200.3 L342.2,200.3 L343.2,200.4 L344.2,200.6 L345.2,200.9 L346.2,201.3 L347.2,201.8 L348.2,202.3 L349.2,203.0 L350.2,203.7 L351.2,204.5 L352.2,205.4 L353.2,206.4 L354.2,207.4 L355.2,208.5 L356.2,209.7 L357.2,210.9 L358.2,212.2 L359.2,213.6 L360.2,215.0 L361.2,216.5 L362.2,218.0 L363.2,219.6 L364.2,221.2 L365.2,222.8 L366.2,224.5 L367.2,226.3 L368.2,228.0 L369.2,229.9 L370.2,231.7 L371.2,233.6 L372.2,235.5 L373.2,237.4 L374.2,239.3 L375.2,241.3 L376.2,243.3 L377.2,245.2 L378.2,247.2 L379.2,249.3 L380.2,251.3 L381.2,253.2 L382.2,255.2 L383.2,257.2 L384.2,259.1 L385.2,261.1 L386.2,263.0 L387.2,264.8 L388.2,266.7 L389.2,268.5 L390.2,270.2 L391.2,271.9 L392.2,273.6 L393.2,275.1 L394.2,276.7 L395.2,278.1 L396.2,279.5 L397.2,280.8 L398.2,282.1 L399.2,283.2 L400.2,284.3 L401.2,285.3 L402.2,286.1 L403.2,286.9 L404.2,287.6 L405.2,288.1 L406.2,288.6 L407.2,288.9 L408.2,289.1 L409.2,289.2 L410.2,289.1 L411.2,289.0 L412.2,288.7 L413.2,288.2 L414.2,287.7 L415.2,287.0 L416.2,286.3 L417.2,285.4 L418.2,284.4 L419.2,283.3 L420.2,282.1 L421.2,280.9 L422.2,279.5 L423.2,278.0 L424.2,276.4 L425.2,274.8 L426.2,273.1 L427.2,271.2 L428.2,269.3 L429.2,267.4 L430.2,265.3 L431.2,263.2 L432.2,261.0 L433.2,258.8 L434.2,256.5 L435.2,254.1 L436.2,251.7 L437.2,249.2 L438.2,246.7 L439.2,244.1 L440.2,241.4 L441.2,238.8 L442.2,236.1 L443.2,233.3 L444.2,230.5 L445.2,227.7 L446.2,224.9 L447.2,222.0 L448.2,219.1 L449.2,216.1 L450.2,213.2 L451.2,210.2 L452.2,207.2 L453.2,204.3 L454.2,201.3 L455.2,198.4 L456.2,195.5 L457.2,192.7 L458.2,190.0 L459.2,187.4 L460.2,184.9 L461.2,182.4 L462.2,180.2 L463.2,178.0 L464.2,175.9 L465.2,173.9 L466.2,172.1 L467.2,170.3 L468.2,168.6 L469.2,167.0 L470.2,165.5 L471.2,164.1 L472.2,162.8 L473.2,161.7 L474.2,160.6 L475.2,159.6 L476.2,158.8 L477.2,158.0 L478.2,157.4 L479.2,157.0 L480.2,156.6 L481.2,156.4 L482.2,156.3 L483.2,156.3 L484.2,156.5 L485.2,156.8 L486.2,157.2 L487.2,157.8 L488.2,158.5 L489.2,159.4 L490.2,160.4 L491.2,161.5 L492.2,162.9 L493.2,164.4 L494.2,166.0 L495.2,167.9 L496.2,169.9 L497.2,172.1 L498.2,174.4 L499.2,176.8 L500.2,179.4 L501.2,182.1 L502.2,184.8 L503.2,187.7 L504.2,190.6 L505.2,193.7 L506.2,196.9 L507.2,200.2 L508.2,203.7 L509.2,207.4 L510.2,211.3 L511.2,215.4 L512.2,219.7 L513.2,224.1 L514.2,228.7 L515.2,233.4 L516.2,238.3 L517.2,243.3 L518.2,248.5 L519.2,253.7 L520.2,259.1 L521.2,264.5 L522.2,269.9 L523.2,275.4 L524.2,280.8 L525.2,286.3 L526.2,291.6 L527.2,296.9 L528.2,302.1 L529.2,307.1 L530.2,312.0 L531.2,316.8 L532.2,321.4 L533.2,325.9 L534.2,330.3 L535.2,334.6 L536.2,338.7 L537.2,342.8 L538.2,346.8 L539.2,350.6 L540.2,354.4 L541.2,358.1 L542.2,361.7 L543.2,365.3 L544.2,368.8 L545.2,372.2 L546.2,375.5 L547.2,378.7 L548.2,381.8 L549.2,384.7 L550.2,387.6 L551.2,390.2 L552.2,392.7 L553.2,395.1 L554.2,397.2 L555.2,399.1 L556.2,400.8 L557.2,402.2 L558.2,403.5 L559.2,404.4 L560.2,405.1 L561.2,405.5 L562.2,405.6 L563.2,405.4 L564.2,405.0 L565.2,404.3 L566.2,403.4 L567.2,402.2 L568.2,400.8 L569.2,399.1 L570.2,397.1 L571.2,394.9 L572.2,392.4 L573.2,389.6 L574.2,386.5 L575.2,383.2 L576.2,379.6 L577.2,375.7 L578.2,371.5 L579.2,367.0 L580.2,362.2 L581.2,357.1 L582.2,351.8 L583.2,346.2 L584.2,340.3 L585.2,334.3 L586.2,328.0 L587.2,321.6 L588.2,314.9 L589.2,308.1 L590.2,301.1 L591.2,294.0 L592.2,286.7 L593.2,279.3 L594.2,271.8 L595.2,264.2 L596.2,256.5 L597.2,248.8 L598.2,240.9 L599.2,233.0 L600.2,225.0 L601.2,216.9 L602.2,208.6 L603.2,200.1 L604.2,191.5 L605.2,182.8 L606.2,174.0 L607.2,165.4 L608.2,156.8 L609.2,148.4 L610.2,140.2 L611.2,132.1 L612.2,124.1 L613.2,116.4 L614.2,108.8 L615.2,101.5 L616.2,94.4 L617.2,87.6 L618.2,81.0 L619.2,74.7 L620.2,68.8 L621.2,63.1 L622.2,57.8 L623.2,52.9 L624.2,48.2 L625.2,44.0 L626.2,40.1 L627.2,36.6 L628.2,33.5 L629.2,30.8 L630.2,28.5 L631.2,26.6 L632.2,25.1 L633.2,24.0 L634.2,23.3 L635.2,23.1 L636.2,23.2 L637.2,23.9 L638.2,24.9 L639.2,26.4 L640.2,28.3 L641.2,30.6 L642.2,33.4 L643.2,36.5 L644.2,40.1 L645.2,44.0 L646.2,48.3 L647.2,53.0 L648.2,58.0 L649.2,63.3 L650.2,69.0 L651.2,74.9 L652.2,81.0 L653.2,87.5 L654.2,94.1 L655.2,101.0 L656.2,108.0 L657.2,115.2 L658.2,122.5 L659.2,129.8 L660.2,137.3 L661.2,144.8 L662.2,152.2 L663.2,159.7 L664.2,167.1 L665.2,174.4 L666.2,181.6 L667.2,188.8 L668.2,195.8 L669.2,202.7 L670.2,209.3 L671.2,215.5 L672.2,221.2 L673.2,226.3 L674.2,230.8 L675.2,234.6 L676.2,238.0 L677.2,241.1 L678.2,244.0 L678.5,244.9" stroke="#7E2F8E" stroke-width="3.0" fill="none" stroke-linejoin="round" stroke-linecap="round"/>
<path d="M72.2,244.9 L73.2,244.5 L74.2,244.1 L75.2,243.6 L76.2,243.1 L77.2,242.5 L78.2,241.9 L79.2,241.1 L80.2,240.3 L81.2,239.4 L82.2,238.5 L83.2,237.6 L84.2,236.6 L85.2,235.6 L86.2,234.6 L87.2,233.6 L88.2,232.6 L89.2,231.6 L90.2,230.6 L91.2,229.6 L92.2,228.6 L93.2,227.6 L94.2,226.7 L95.2,225.7 L96.2,224.8 L97.2,223.9 L98.2,223.0 L99.2,222.1 L100.2,221.3 L101.2,220.6 L102.2,219.8 L103.2,219.2 L104.2,218.5 L105.2,217.9 L106.2,217.4 L107.2,216.9 L108.2,216.5 L109.2,216.1 L110.2,215.7 L111.2,215.5 L112.2,215.3 L113.2,215.1 L114.2,215.0 L115.2,215.0 L116.2,215.0 L117.2,215.1 L118.2,215.2 L119.2,215.4 L120.2,215.7 L121.2,216.0 L122.2,216.3 L123.2,216.7 L124.2,217.2 L125.2,217.7 L126.2,218.3 L127.2,218.9 L128.2,219.5 L129.2,220.3 L130.2,221.0 L131.2,221.8 L132.2,222.6 L133.2,223.5 L134.2,224.4 L135.2,225.4 L136.2,226.4 L137.2,227.4 L138.2,228.4 L139.2,229.5 L140.2,230.6 L141.2,231.7 L142.2,232.8 L143.2,234.0 L144.2,235.2 L145.2,236.3 L146.2,237.5 L147.2,238.7 L148.2,239.8 L149.2,241.0 L150.2,242.1 L151.2,243.1 L152.2,244.2 L153.2,245.3 L154.2,246.3 L155.2,247.4 L156.2,248.4 L157.2,249.4 L158.2,250.4 L159.2,251.5 L160.2,252.5 L161.2,253.4 L162.2,254.4 L163.2,255.3 L164.2,256.3 L165.2,257.2 L166.2,258.1 L167.2,259.0 L168.2,259.8 L169.2,260.7 L170.2,261.5 L171.2,262.3 L172.2,263.0 L173.2,263.8 L174.2,264.5 L175.2,265.1 L176.2,265.8 L177.2,266.4 L178.2,267.0 L179.2,267.5 L180.2,268.0 L181.2,268.5 L182.2,269.0 L183.2,269.4 L184.2,269.7 L185.2,270.1 L186.2,270.4 L187.2,270.6 L188.2,270.8 L189.2,271.0 L190.2,271.1 L191.2,271.1 L192.2,271.1 L193.2,271.1 L194.2,271.0 L195.2,270.9 L196.2,270.8 L197.2,270.6 L198.2,270.4 L199.2,270.2 L200.2,269.9 L201.2,269.6 L202.2,269.2 L203.2,268.9 L204.2,268.5 L205.2,268.0 L206.2,267.6 L207.2,267.1 L208.2,266.6 L209.2,266.1 L210.2,265.5 L211.2,265.0 L212.2,264.4 L213.2,263.8 L214.2,263.2 L215.2,262.5 L216.2,261.9 L217.2,261.2 L218.2,260.5 L219.2,259.9 L220.2,259.2 L221.2,258.5 L222.2,257.7 L223.2,257.0 L224.2,256.3 L225.2,255.5 L226.2,254.8 L227.2,254.1 L228.2,253.3 L229.2,252.6 L230.2,251.8 L231.2,251.1 L232.2,250.4 L233.2,249.6 L234.2,248.9 L235.2,248.2 L236.2,247.5 L237.2,246.8 L238.2,246.1 L239.2,245.4 L240.2,244.7 L241.2,244.1 L242.2,243.4 L243.2,242.8 L244.2,242.2 L245.2,241.6 L246.2,241.0 L247.2,240.4 L248.2,239.9 L249.2,239.4 L250.2,238.8 L251.2,238.3 L252.2,237.9 L253.2,237.4 L254.2,237.0 L255.2,236.5 L256.2,236.1 L257.2,235.7 L258.2,235.3 L259.2,235.0 L260.2,234.6 L261.2,234.3 L262.2,234.0 L263.2,233.7 L264.2,233.4 L265.2,233.2 L266.2,232.9 L267.2,232.7 L268.2,232.5 L269.2,232.3 L270.2,232.1 L271.2,232.0 L272.2,231.9 L273.2,231.8 L274.2,231.7 L275.2,231.6 L276.2,231.5 L277.2,231.5 L278.2,231.5 L279.2,231.5 L280.2,231.5 L281.2,231.5 L282.2,231.6 L283.2,231.7 L284.2,231.8 L285.2,231.9 L286.2,232.1 L287.2,232.2 L288.2,232.4 L289.2,232.6 L290.2,232.8 L291.2,233.1 L292.2,233.3 L293.2,233.6 L294.2,233.9 L295.2,234.2 L296.2,234.5 L297.2,234.8 L298.2,235.1 L299.2,235.5 L300.2,235.8 L301.2,236.2 L302.2,236.6 L303.2,236.9 L304.2,237.3 L305.2,237.7 L306.2,238.1 L307.2,238.5 L308.2,238.9 L309.2,239.4 L310.2,239.8 L311.2,240.2 L312.2,240.6 L313.2,241.1 L314.2,241.5 L315.2,241.9 L316.2,242.4 L317.2,242.8 L318.2,243.3 L319.2,243.7 L320.2,244.1 L321.2,244.6 L322.2,245.0 L323.2,245.4 L324.2,245.8 L325.2,246.2 L326.2,246.7 L327.2,247.1 L328.2,247.5 L329.2,247.9 L330.2,248.3 L331.2,248.7 L332.2,249.1 L333.2,249.5 L334.2,249.9 L335.2,250.3 L336.2,250.6 L337.2,251.0 L338.2,251.4 L339.2,251.7 L340.2,252.1 L341.2,252.4 L342.2,252.8 L343.2,253.1 L344.2,253.5 L345.2,253.8 L346.2,254.1 L347.2,254.4 L348.2,254.7 L349.2,255.0 L350.2,255.3 L351.2,255.6 L352.2,255.9 L353.2,256.2 L354.2,256.4 L355.2,256.7 L356.2,256.9 L357.2,257.2 L358.2,257.4 L359.2,257.6 L360.2,257.8 L361.2,258.0 L362.2,258.2 L363.2,258.4 L364.2,258.5 L365.2,258.7 L366.2,258.9 L367.2,259.0 L368.2,259.1 L369.2,259.2 L370.2,259.4 L371.2,259.4 L372.2,259.5 L373.2,259.6 L374.2,259.7 L375.2,259.7 L376.2,259.8 L377.2,259.8 L378.2,259.8 L379.2,259.8 L380.2,259.8 L381.2,259.7 L382.2,259.7 L383.2,259.7 L384.2,259.6 L385.2,259.5 L386.2,259.5 L387.2,259.4 L388.2,259.3 L389.2,259.2 L390.2,259.0 L391.2,258.9 L392.2,258.7 L393.2,258.6 L394.2,258.4 L395.2,258.2 L396.2,258.0 L397.2,257.8 L398.2,257.6 L399.2,257.4 L400.2,257.1 L401.2,256.9 L402.2,256.6 L403.2,256.3 L404.2,256.1 L405.2,255.8 L406.2,255.4 L407.2,255.1 L408.2,254.8 L409.2,254.4 L410.2,254.1 L411.2,253.7 L412.2,253.3 L413.2,252.9 L414.2,252.5 L415.2,252.1 L416.2,251.6 L417.2,251.2 L418.2,250.7 L419.2,250.3 L420.2,249.8 L421.2,249.3 L422.2,248.8 L423.2,248.3 L424.2,247.8 L425.2,247.3 L426.2,246.7 L427.2,246.2 L428.2,245.7 L429.2,245.2 L430.2,244.6 L431.2,244.1 L432.2,243.6 L433.2,243.1 L434.2,242.6 L435.2,242.1 L436.2,241.6 L437.2,241.1 L438.2,240.6 L439.2,240.1 L440.2,239.7 L441.2,239.2 L442.2,238.7 L443.2,238.3 L444.2,237.9 L445.2,237.4 L446.2,237.0 L447.2,236.6 L448.2,236.2 L449.2,235.8 L450.2,235.4 L451.2,235.1 L452.2,234.7 L453.2,234.4 L454.2,234.0 L455.2,233.7 L456.2,233.4 L457.2,233.1 L458.2,232.9 L459.2,232.6 L460.2,232.4 L461.2,232.1 L462.2,231.9 L463.2,231.7 L464.2,231.6 L465.2,231.4 L466.2,231.3 L467.2,231.2 L468.2,231.1 L469.2,231.0 L470.2,230.9 L471.2,230.9 L472.2,230.9 L473.2,230.9 L474.2,230.9 L475.2,231.0 L476.2,231.0 L477.2,231.1 L478.2,231.3 L479.2,231.4 L480.2,231.6 L481.2,231.8 L482.2,232.0 L483.2,232.2 L484.2,232.5 L485.2,232.8 L486.2,233.1 L487.2,233.4 L488.2,233.8 L489.2,234.1 L490.2,234.5 L491.2,234.9 L492.2,235.4 L493.2,235.8 L494.2,236.3 L495.2,236.8 L496.2,237.3 L497.2,237.8 L498.2,238.3 L499.2,238.9 L500.2,239.4 L501.2,240.0 L502.2,240.6 L503.2,241.2 L504.2,241.9 L505.2,242.5 L506.2,243.2 L507.2,243.9 L508.2,244.6 L509.2,245.3 L510.2,246.0 L511.2,246.7 L512.2,247.4 L513.2,248.2 L514.2,248.9 L515.2,249.7 L516.2,250.4 L517.2,251.2 L518.2,251.9 L519.2,252.7 L520.2,253.4 L521.2,254.2 L522.2,255.0 L523.2,255.7 L524.2,256.5 L525.2,257.2 L526.2,257.9 L527.2,258.7 L528.2,259.4 L529.2,260.1 L530.2,260.8 L531.2,261.5 L532.2,262.2 L533.2,262.9 L534.2,263.5 L535.2,264.2 L536.2,264.8 L537.2,265.5 L538.2,266.1 L539.2,266.6 L540.2,267.2 L541.2,267.8 L542.2,268.3 L543.2,268.8 L544.2,269.3 L545.2,269.8 L546.2,270.2 L547.2,270.6 L548.2,271.0 L549.2,271.4 L550.2,271.7 L551.2,272.1 L552.2,272.4 L553.2,272.6 L554.2,272.8 L555.2,273.0 L556.2,273.2 L557.2,273.3 L558.2,273.4 L559.2,273.5 L560.2,273.5 L561.2,273.5 L562.2,273.4 L563.2,273.3 L564.2,273.1 L565.2,272.9 L566.2,272.6 L567.2,272.2 L568.2,271.8 L569.2,271.3 L570.2,270.8 L571.2,270.3 L572.2,269.7 L573.2,269.1 L574.2,268.4 L575.2,267.7 L576.2,266.9 L577.2,266.1 L578.2,265.3 L579.2,264.4 L580.2,263.5 L581.2,262.6 L582.2,261.7 L583.2,260.7 L584.2,259.7 L585.2,258.7 L586.2,257.7 L587.2,256.6 L588.2,255.5 L589.2,254.4 L590.2,253.3 L591.2,252.2 L592.2,251.1 L593.2,250.0 L594.2,248.8 L595.2,247.7 L596.2,246.6 L597.2,245.4 L598.2,244.3 L599.2,243.1 L600.2,242.0 L601.2,240.8 L602.2,239.6 L603.2,238.3 L604.2,237.1 L605.2,235.8 L606.2,234.5 L607.2,233.2 L608.2,232.0 L609.2,230.8 L610.2,229.6 L611.2,228.4 L612.2,227.2 L613.2,226.1 L614.2,225.0 L615.2,223.9 L616.2,222.9 L617.2,221.9 L618.2,220.9 L619.2,220.0 L620.2,219.1 L621.2,218.3 L622.2,217.5 L623.2,216.8 L624.2,216.1 L625.2,215.5 L626.2,215.0 L627.2,214.4 L628.2,214.0 L629.2,213.6 L630.2,213.3 L631.2,213.0 L632.2,212.8 L633.2,212.6 L634.2,212.5 L635.2,212.5 L636.2,212.5 L637.2,212.6 L638.2,212.7 L639.2,213.0 L640.2,213.2 L641.2,213.6 L642.2,214.0 L643.2,214.4 L644.2,215.0 L645.2,215.5 L646.2,216.2 L647.2,216.8 L648.2,217.6 L649.2,218.3 L650.2,219.2 L651.2,220.0 L652.2,220.9 L653.2,221.9 L654.2,222.8 L655.2,223.8 L656.2,224.9 L657.2,225.9 L658.2,227.0 L659.2,228.1 L660.2,229.1 L661.2,230.2 L662.2,231.3 L663.2,232.4 L664.2,233.5 L665.2,234.6 L666.2,235.6 L667.2,236.7 L668.2,237.7 L669.2,238.7 L670.2,239.7 L671.2,240.6 L672.2,241.4 L673.2,242.1 L674.2,242.8 L675.2,243.4 L676.2,243.9 L677.2,244.3 L678.2,244.7 L678.5,244.9" stroke="#77AC30" stroke-width="3.0" fill="none" stroke-linejoin="round" stroke-linecap="round"/>
<path d="M72.2,244.9 L73.2,243.7 L74.2,242.4 L75.2,241.0 L76.2,239.5 L77.2,237.7 L78.2,235.7 L79.2,233.4 L80.2,230.9 L81.2,228.2 L82.2,225.4 L83.2,222.5 L84.2,219.5 L85.2,216.5 L86.2,213.5 L87.2,210.4 L88.2,207.3 L89.2,204.2 L90.2,201.1 L91.2,198.0 L92.2,195.0 L93.2,191.9 L94.2,189.0 L95.2,186.0 L96.2,183.2 L97.2,180.4 L98.2,177.7 L99.2,175.1 L100.2,172.6 L101.2,170.3 L102.2,168.0 L103.2,165.9 L104.2,164.0 L105.2,162.1 L106.2,160.5 L107.2,159.0 L108.2,157.6 L109.2,156.4 L110.2,155.4 L111.2,154.6 L112.2,154.0 L113.2,153.5 L114.2,153.2 L115.2,153.1 L116.2,153.1 L117.2,153.4 L118.2,153.8 L119.2,154.4 L120.2,155.2 L121.2,156.1 L122.2,157.2 L123.2,158.4 L124.2,159.9 L125.2,161.4 L126.2,163.2 L127.2,165.1 L128.2,167.1 L129.2,169.3 L130.2,171.6 L131.2,174.1 L132.2,176.6 L133.2,179.3 L134.2,182.2 L135.2,185.1 L136.2,188.1 L137.2,191.2 L138.2,194.4 L139.2,197.7 L140.2,201.1 L141.2,204.5 L142.2,208.0 L143.2,211.5 L144.2,215.1 L145.2,218.7 L146.2,222.3 L147.2,225.9 L148.2,229.5 L149.2,232.9 L150.2,236.3 L151.2,239.6 L152.2,242.9 L153.2,246.2 L154.2,249.4 L155.2,252.6 L156.2,255.8 L157.2,259.0 L158.2,262.1 L159.2,265.2 L160.2,268.2 L161.2,271.2 L162.2,274.1 L163.2,276.9 L164.2,279.7 L165.2,282.4 L166.2,285.1 L167.2,287.6 L168.2,290.1 L169.2,292.4 L170.2,294.7 L171.2,296.8 L172.2,298.9 L173.2,300.8 L174.2,302.6 L175.2,304.3 L176.2,305.8 L177.2,307.2 L178.2,308.5 L179.2,309.6 L180.2,310.6 L181.2,311.4 L182.2,312.2 L183.2,312.8 L184.2,313.3 L185.2,313.7 L186.2,314.0 L187.2,314.2 L188.2,314.3 L189.2,314.3 L190.2,314.1 L191.2,313.8 L192.2,313.5 L193.2,312.9 L194.2,312.3 L195.2,311.6 L196.2,310.8 L197.2,309.9 L198.2,308.9 L199.2,307.8 L200.2,306.7 L201.2,305.6 L202.2,304.4 L203.2,303.1 L204.2,301.8 L205.2,300.4 L206.2,299.0 L207.2,297.5 L208.2,296.0 L209.2,294.4 L210.2,292.8 L211.2,291.1 L212.2,289.3 L213.2,287.5 L214.2,285.7 L215.2,283.8 L216.2,281.8 L217.2,279.8 L218.2,277.7 L219.2,275.6 L220.2,273.4 L221.2,271.2 L222.2,269.0 L223.2,266.7 L224.2,264.3 L225.2,262.0 L226.2,259.6 L227.2,257.3 L228.2,255.0 L229.2,252.6 L230.2,250.4 L231.2,248.1 L232.2,245.9 L233.2,243.8 L234.2,241.7 L235.2,239.7 L236.2,237.8 L237.2,235.9 L238.2,234.1 L239.2,232.3 L240.2,230.6 L241.2,229.0 L242.2,227.5 L243.2,226.0 L244.2,224.5 L245.2,223.2 L246.2,221.9 L247.2,220.6 L248.2,219.4 L249.2,218.3 L250.2,217.3 L251.2,216.3 L252.2,215.3 L253.2,214.5 L254.2,213.7 L255.2,212.9 L256.2,212.2 L257.2,211.6 L258.2,211.0 L259.2,210.5 L260.2,210.1 L261.2,209.7 L262.2,209.4 L263.2,209.1 L264.2,208.9 L265.2,208.8 L266.2,208.7 L267.2,208.6 L268.2,208.7 L269.2,208.8 L270.2,208.9 L271.2,209.2 L272.2,209.5 L273.2,209.8 L274.2,210.2 L275.2,210.6 L276.2,211.2 L277.2,211.7 L278.2,212.3 L279.2,213.0 L280.2,213.7 L281.2,214.4 L282.2,215.2 L283.2,216.0 L284.2,216.8 L285.2,217.7 L286.2,218.6 L287.2,219.6 L288.2,220.5 L289.2,221.5 L290.2,222.6 L291.2,223.6 L292.2,224.7 L293.2,225.8 L294.2,226.8 L295.2,228.0 L296.2,229.1 L297.2,230.2 L298.2,231.3 L299.2,232.5 L300.2,233.6 L301.2,234.8 L302.2,235.9 L303.2,237.1 L304.2,238.2 L305.2,239.4 L306.2,240.5 L307.2,241.6 L308.2,242.7 L309.2,243.8 L310.2,244.9 L311.2,245.9 L312.2,246.9 L313.2,248.0 L314.2,248.9 L315.2,249.9 L316.2,250.9 L317.2,251.8 L318.2,252.7 L319.2,253.5 L320.2,254.4 L321.2,255.2 L322.2,256.0 L323.2,256.7 L324.2,257.4 L325.2,258.1 L326.2,258.7 L327.2,259.4 L328.2,259.9 L329.2,260.4 L330.2,260.9 L331.2,261.4 L332.2,261.7 L333.2,262.1 L334.2,262.4 L335.2,262.6 L336.2,262.8 L337.2,263.0 L338.2,263.1 L339.2,263.1 L340.2,263.1 L341.2,263.1 L342.2,262.9 L343.2,262.8 L344.2,262.5 L345.2,262.3 L346.2,262.0 L347.2,261.6 L348.2,261.2 L349.2,260.8 L350.2,260.3 L351.2,259.8 L352.2,259.2 L353.2,258.6 L354.2,258.0 L355.2,257.4 L356.2,256.7 L357.2,256.0 L358.2,255.3 L359.2,254.6 L360.2,253.8 L361.2,253.1 L362.2,252.3 L363.2,251.5 L364.2,250.7 L365.2,249.9 L366.2,249.1 L367.2,248.2 L368.2,247.4 L369.2,246.6 L370.2,245.8 L371.2,244.9 L372.2,244.1 L373.2,243.3 L374.2,242.5 L375.2,241.7 L376.2,240.9 L377.2,240.1 L378.2,239.4 L379.2,238.6 L380.2,237.9 L381.2,237.2 L382.2,236.5 L383.2,235.8 L384.2,235.1 L385.2,234.4 L386.2,233.8 L387.2,233.2 L388.2,232.6 L389.2,232.0 L390.2,231.4 L391.2,230.9 L392.2,230.4 L393.2,229.9 L394.2,229.4 L395.2,229.0 L396.2,228.6 L397.2,228.2 L398.2,227.8 L399.2,227.5 L400.2,227.2 L401.2,226.9 L402.2,226.7 L403.2,226.5 L404.2,226.3 L405.2,226.2 L406.2,226.1 L407.2,226.0 L408.2,226.0 L409.2,226.0 L410.2,226.0 L411.2,226.1 L412.2,226.3 L413.2,226.5 L414.2,226.7 L415.2,226.9 L416.2,227.2 L417.2,227.6 L418.2,228.0 L419.2,228.4 L420.2,228.8 L421.2,229.3 L422.2,229.9 L423.2,230.4 L424.2,231.0 L425.2,231.7 L426.2,232.3 L427.2,233.0 L428.2,233.8 L429.2,234.5 L430.2,235.3 L431.2,236.2 L432.2,237.0 L433.2,237.9 L434.2,238.8 L435.2,239.8 L436.2,240.7 L437.2,241.7 L438.2,242.7 L439.2,243.8 L440.2,244.9 L441.2,245.9 L442.2,247.0 L443.2,248.2 L444.2,249.3 L445.2,250.5 L446.2,251.6 L447.2,252.8 L448.2,254.0 L449.2,255.2 L450.2,256.4 L451.2,257.6 L452.2,258.7 L453.2,259.9 L454.2,261.1 L455.2,262.3 L456.2,263.4 L457.2,264.5 L458.2,265.7 L459.2,266.8 L460.2,267.8 L461.2,268.9 L462.2,269.9 L463.2,270.9 L464.2,271.9 L465.2,272.9 L466.2,273.8 L467.2,274.6 L468.2,275.5 L469.2,276.3 L470.2,277.0 L471.2,277.7 L472.2,278.4 L473.2,279.0 L474.2,279.5 L475.2,280.0 L476.2,280.5 L477.2,280.8 L478.2,281.2 L479.2,281.4 L480.2,281.6 L481.2,281.7 L482.2,281.8 L483.2,281.7 L484.2,281.6 L485.2,281.4 L486.2,281.2 L487.2,280.8 L488.2,280.4 L489.2,279.9 L490.2,279.3 L491.2,278.6 L492.2,277.9 L493.2,277.1 L494.2,276.2 L495.2,275.3 L496.2,274.3 L497.2,273.2 L498.2,272.1 L499.2,270.9 L500.2,269.7 L501.2,268.4 L502.2,267.1 L503.2,265.7 L504.2,264.3 L505.2,262.8 L506.2,261.3 L507.2,259.7 L508.2,258.1 L509.2,256.5 L510.2,254.8 L511.2,253.1 L512.2,251.4 L513.2,249.6 L514.2,247.8 L515.2,246.0 L516.2,244.1 L517.2,242.2 L518.2,240.3 L519.2,238.4 L520.2,236.5 L521.2,234.5 L522.2,232.5 L523.2,230.5 L524.2,228.6 L525.2,226.6 L526.2,224.6 L527.2,222.5 L528.2,220.5 L529.2,218.5 L530.2,216.6 L531.2,214.6 L532.2,212.6 L533.2,210.6 L534.2,208.7 L535.2,206.8 L536.2,204.9 L537.2,203.0 L538.2,201.1 L539.2,199.3 L540.2,197.5 L541.2,195.7 L542.2,194.0 L543.2,192.3 L544.2,190.7 L545.2,189.1 L546.2,187.5 L547.2,186.0 L548.2,184.5 L549.2,183.1 L550.2,181.8 L551.2,180.5 L552.2,179.4 L553.2,178.3 L554.2,177.3 L555.2,176.4 L556.2,175.6 L557.2,174.9 L558.2,174.4 L559.2,173.9 L560.2,173.6 L561.2,173.4 L562.2,173.4 L563.2,173.5 L564.2,173.8 L565.2,174.3 L566.2,174.9 L567.2,175.7 L568.2,176.6 L569.2,177.6 L570.2,178.8 L571.2,180.1 L572.2,181.5 L573.2,183.0 L574.2,184.6 L575.2,186.3 L576.2,188.1 L577.2,190.0 L578.2,191.9 L579.2,194.0 L580.2,196.1 L581.2,198.3 L582.2,200.7 L583.2,203.0 L584.2,205.5 L585.2,208.0 L586.2,210.6 L587.2,213.3 L588.2,216.0 L589.2,218.8 L590.2,221.7 L591.2,224.6 L592.2,227.6 L593.2,230.6 L594.2,233.7 L595.2,236.8 L596.2,240.0 L597.2,243.2 L598.2,246.5 L599.2,249.8 L600.2,253.2 L601.2,256.6 L602.2,260.1 L603.2,263.7 L604.2,267.3 L605.2,271.0 L606.2,274.6 L607.2,278.3 L608.2,281.9 L609.2,285.4 L610.2,288.9 L611.2,292.3 L612.2,295.7 L613.2,298.9 L614.2,302.1 L615.2,305.2 L616.2,308.2 L617.2,311.0 L618.2,313.8 L619.2,316.4 L620.2,318.9 L621.2,321.3 L622.2,323.5 L623.2,325.6 L624.2,327.6 L625.2,329.4 L626.2,331.0 L627.2,332.5 L628.2,333.8 L629.2,334.9 L630.2,335.9 L631.2,336.7 L632.2,337.3 L633.2,337.8 L634.2,338.1 L635.2,338.2 L636.2,338.1 L637.2,337.8 L638.2,337.4 L639.2,336.8 L640.2,336.0 L641.2,335.0 L642.2,333.8 L643.2,332.5 L644.2,331.0 L645.2,329.4 L646.2,327.5 L647.2,325.6 L648.2,323.5 L649.2,321.2 L650.2,318.9 L651.2,316.4 L652.2,313.8 L653.2,311.1 L654.2,308.3 L655.2,305.4 L656.2,302.4 L657.2,299.4 L658.2,296.4 L659.2,293.2 L660.2,290.1 L661.2,287.0 L662.2,283.8 L663.2,280.7 L664.2,277.6 L665.2,274.5 L666.2,271.4 L667.2,268.4 L668.2,265.5 L669.2,262.6 L670.2,259.8 L671.2,257.2 L672.2,254.8 L673.2,252.7 L674.2,250.8 L675.2,249.2 L676.2,247.7 L677.2,246.4 L678.2,245.2 L678.5,244.9" stroke="#4DBEEE" stroke-width="3.0" fill="none" stroke-linejoin="round" stroke-linecap="round"/>
<g font-family="Liberation Sans, Arial, Helvetica, sans-serif" font-size="18.6" fill="#151515" stroke="#151515" stroke-width="0.35">
<text x="72.2" y="510.8" text-anchor="middle">0</text>
<text x="158.8" y="510.8" text-anchor="middle">3</text>
<text x="245.4" y="510.8" text-anchor="middle">6</text>
<text x="332.0" y="510.8" text-anchor="middle">9</text>
<text x="418.7" y="510.8" text-anchor="middle">12</text>
<text x="505.3" y="510.8" text-anchor="middle">15</text>
<text x="591.9" y="510.8" text-anchor="middle">18</text>
<text x="677.7" y="510.8" text-anchor="middle">21</text>
<text x="64.6" y="13.6" text-anchor="end">2</text>
<text x="64.6" y="73.4" text-anchor="end">1.5</text>
<text x="64.6" y="133.2" text-anchor="end">1</text>
<text x="64.6" y="192.9" text-anchor="end">0.5</text>
<text x="64.6" y="252.7" text-anchor="end">0</text>
<text x="64.6" y="312.4" text-anchor="end">-0.5</text>
<text x="64.6" y="372.2" text-anchor="end">-1</text>
<text x="64.6" y="431.9" text-anchor="end">-1.5</text>
<text x="64.6" y="491.7" text-anchor="end">-2</text>
</g>
<g font-family="Liberation Sans, Arial, Helvetica, sans-serif" font-size="19.8" fill="#151515" stroke="#151515" stroke-width="0.35">
<text transform="translate(375.6,537.0) scale(1.055,1)" text-anchor="middle">Time (s)</text>
<text transform="translate(22.3,326.5) rotate(-90)"><tspan letter-spacing="0.26">Acceleration</tspan><tspan dx="-1.1"> (°/s</tspan><tspan dy="-8" font-size="15.8" dx="0.3">2</tspan><tspan dy="8" dx="1.2">)</tspan></text>
</g>
<rect x="403.2" y="11.4" width="121.6" height="142.0" fill="#fff" stroke="#2b2b2b" stroke-width="1.4"/>
<g font-family="Liberation Sans, Arial, Helvetica, sans-serif" font-size="16.5" fill="#0a0a0a" stroke="#0a0a0a" stroke-width="0.3">
<path d="M408.7,25.35H464.6" stroke="#0072BD" stroke-width="3.0"/>
<text x="469.1" y="32.1">Joint 1</text>
<path d="M408.7,48.25H464.6" stroke="#D95319" stroke-width="3.0"/>
<text x="469.1" y="55.0">Joint 2</text>
<path d="M408.7,71.15H464.6" stroke="#EDB120" stroke-width="3.0"/>
<text x="469.1" y="77.9">Joint 4</text>
<path d="M408.7,94.05H464.6" stroke="#7E2F8E" stroke-width="3.0"/>
<text x="469.1" y="100.7">Joint 5</text>
<path d="M408.7,116.95H464.6" stroke="#77AC30" stroke-width="3.0"/>
<text x="469.1" y="123.6">Joint 6</text>
<path d="M408.7,139.85H464.6" stroke="#4DBEEE" stroke-width="3.0"/>
<text x="469.1" y="146.5">Joint 7</text>
</g>
</svg>
</body></html>
